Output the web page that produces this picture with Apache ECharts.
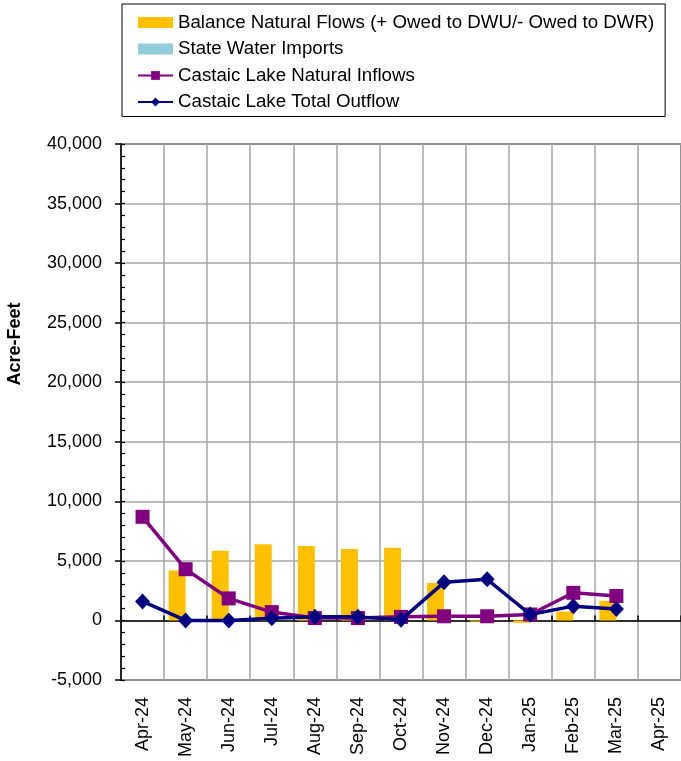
<!DOCTYPE html>
<html>
<head>
<meta charset="utf-8">
<script src="https://cdn.jsdelivr.net/npm/echarts@6/dist/echarts.min.js"></script>
<style>
  html, body { margin: 0; padding: 0; background: #fff; }
  #chart { width: 681px; height: 761px; }
</style>
</head>
<body>
<div id="chart"></div>
<script>
// Monthly water accounting for Castaic Lake, acre-feet
const months = ['Apr-24', 'May-24', 'Jun-24', 'Jul-24', 'Aug-24', 'Sep-24', 'Oct-24',
                'Nov-24', 'Dec-24', 'Jan-25', 'Feb-25', 'Mar-25', 'Apr-25'];
const balanceNaturalFlows = [0, 4200, 5850, 6400, 6250, 6000, 6100, 3150, -100, -200, 750, 1650, null];
const stateWaterImports   = [0, 0, 0, 0, 0, 0, 0, 0, 0, 0, 0, 0, null];
const naturalInflows      = [8700, 4300, 1850, 700, 200, 200, 300, 350, 350, 500, 2320, 2050, null];
const totalOutflow        = [1600, 0, 0, 180, 300, 300, 50, 3200, 3450, 500, 1200, 960, null];
const yTicks = { min: -5000, max: 40000, step: 5000, minorStep: 1000 };

const FONT = 'Liberation Sans, Arial, sans-serif';
const fmt = v => (v < 0 ? '-' : '') + Math.abs(v).toLocaleString('en-US');

const chart = echarts.init(document.getElementById('chart'), null, { renderer: 'canvas' });

chart.setOption({
  animation: false,
  backgroundColor: '#ffffff',
  textStyle: { fontFamily: FONT },
  grid: {
    left: 121, top: 144, width: 561, height: 536,
    show: true, borderColor: '#222', borderWidth: 1.5, backgroundColor: 'transparent'
  },
  legend: {
    orient: 'vertical',
    left: 122, top: 4,
    padding: [9, 11, 5, 15],
    itemGap: 7.5,
    itemWidth: 35,
    itemHeight: 11,
    borderColor: '#000', borderWidth: 1,
    textStyle: { fontFamily: FONT, fontSize: 18.7, color: '#000' },
    data: [
      { name: 'Balance Natural Flows (+ Owed to DWU/- Owed to DWR)', icon: 'rect' },
      { name: 'State Water Imports', icon: 'rect' },
      { name: 'Castaic Lake Natural Inflows' },
      { name: 'Castaic Lake Total Outflow' }
    ]
  },
  xAxis: [
    {
      type: 'category',
      data: months,
      position: 'bottom',
      axisLine: { show: false },
      axisTick: { show: false },
      splitLine: { show: true, interval: 0, lineStyle: { color: '#a6a6a6', width: 1.5 } },
      axisLabel: {
        interval: 0, rotate: 90, margin: 17,
        fontFamily: FONT, fontSize: 18, color: '#000'
      }
    },
    {
      // zero line with month boundary ticks
      type: 'category',
      data: months,
      axisLine: { show: true, onZero: true, onZeroAxisIndex: 0, lineStyle: { color: '#000', width: 1.5 } },
      axisTick: { show: true, inside: false, length: 5, interval: 0, lineStyle: { color: '#000', width: 1.5 } },
      axisLabel: { show: false },
      splitLine: { show: false }
    }
  ],
  yAxis: [
    {
      type: 'value',
      min: yTicks.min, max: yTicks.max, interval: yTicks.step,
      axisLine: { show: true, lineStyle: { color: '#000', width: 1.5 } },
      axisTick: { show: true, length: 6, lineStyle: { color: '#000', width: 1.5 } },
      splitLine: { show: true, lineStyle: { color: '#a6a6a6', width: 1.5 } },
      axisLabel: {
        margin: 19, formatter: fmt,
        fontFamily: FONT, fontSize: 18, color: '#000'
      }
    },
    {
      // inward minor ticks every 1,000
      type: 'value',
      position: 'left',
      min: yTicks.min, max: yTicks.max, interval: yTicks.minorStep,
      axisLine: { show: false },
      axisTick: { show: true, inside: true, length: 4, lineStyle: { color: '#000', width: 1.2 } },
      splitLine: { show: false },
      axisLabel: { show: false }
    }
  ],
  graphic: [
    {
      type: 'text',
      x: 15, y: 344,
      rotation: Math.PI / 2,
      style: {
        text: 'Acre-Feet',
        font: 'bold 18px ' + FONT,
        fill: '#000',
        textAlign: 'center',
        textVerticalAlign: 'middle'
      }
    }
  ],
  series: [
    {
      name: 'Balance Natural Flows (+ Owed to DWU/- Owed to DWR)',
      type: 'bar',
      data: balanceNaturalFlows,
      barWidth: 17,
      barGap: '0%',
      itemStyle: { color: '#FFC000' },
      z: 2
    },
    {
      name: 'State Water Imports',
      type: 'bar',
      data: stateWaterImports,
      barWidth: 17,
      barGap: '0%',
      itemStyle: { color: '#92CDDC' },
      z: 2
    },
    {
      name: 'Castaic Lake Natural Inflows',
      type: 'line',
      data: naturalInflows,
      symbol: 'rect',
      symbolSize: 14,
      lineStyle: { color: '#800080', width: 3.5 },
      itemStyle: { color: '#800080' },
      z: 3
    },
    {
      name: 'Castaic Lake Total Outflow',
      type: 'line',
      data: totalOutflow,
      symbol: 'diamond',
      symbolSize: [15, 16],
      lineStyle: { color: '#000080', width: 3.5 },
      itemStyle: { color: '#000080' },
      z: 4
    }
  ]
});
</script>
</body>
</html>
